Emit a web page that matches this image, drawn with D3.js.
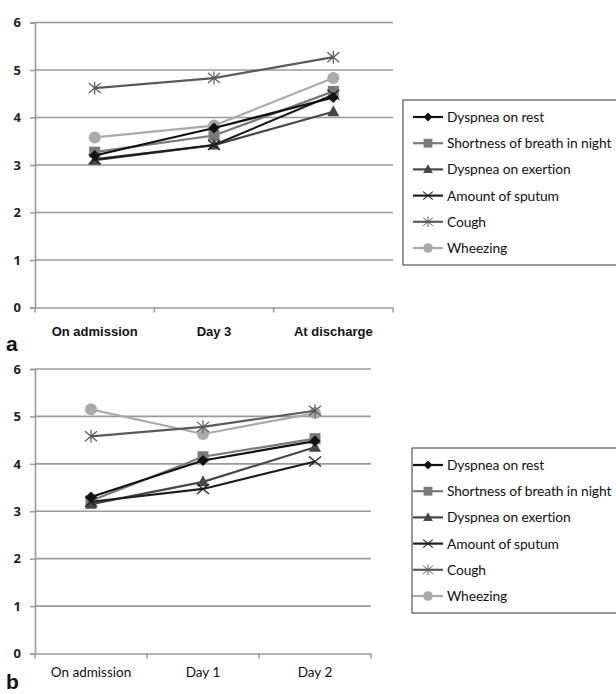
<!DOCTYPE html>
<html>
<head>
<meta charset="utf-8">
<script src="https://cdn.jsdelivr.net/npm/d3@7"></script>
<style>
  body { margin: 0; background: #fff; }
  svg { display: block; }
</style>
</head>
<body>
<svg id="chart" width="616" height="694"></svg>
<script>
// categories
var catsA = ["On admission", "Day 3", "At discharge"];
var catsB = ["On admission", "Day 1", "Day 2"];
var yTicks = [0, 1, 2, 3, 4, 5, 6];

var seriesNames = ["Dyspnea on rest", "Shortness of breath in night", "Dyspnea on exertion",
                   "Amount of sputum", "Cough", "Wheezing"];

// panel a values
var restA      = [3.20, 3.78, 4.42];
var nightA     = [3.27, 3.62, 4.55];
var exertionA  = [3.10, 3.42, 4.12];
var sputumA    = [3.12, 3.42, 4.48];
var coughA     = [4.62, 4.83, 5.27];
var wheezingA  = [3.58, 3.83, 4.83];

// panel b values
var restB      = [3.30, 4.07, 4.48];
var nightB     = [3.22, 4.15, 4.53];
var exertionB  = [3.15, 3.62, 4.35];
var sputumB    = [3.20, 3.47, 4.05];
var coughB     = [4.58, 4.78, 5.12];
var wheezingB  = [5.15, 4.63, 5.07];

var styles = [
  {color: "#111", marker: "diamond"},
  {color: "#7a7a7a", marker: "square"},
  {color: "#474747", marker: "triangle"},
  {color: "#1e1e1e", marker: "cross"},
  {color: "#5a5a5a", marker: "star"},
  {color: "#aaaaaa", marker: "circle"}
];

var svg = d3.select("#chart");

function drawMarker(g, type, x, y, color, s) {
  s = s || 1;
  var tr = "translate(" + x + "," + y + ") scale(" + s + ")";
  if (type === "circle") {
    g.append("circle").attr("cx", x).attr("cy", y).attr("r", 6 * s).attr("fill", color);
  } else if (type === "square") {
    g.append("rect").attr("x", x - 5.5 * s).attr("y", y - 5.5 * s).attr("width", 11 * s).attr("height", 11 * s).attr("fill", color);
  } else if (type === "triangle") {
    g.append("path").attr("d", "M0,-6.5L6,4.5L-6,4.5Z").attr("transform", tr).attr("fill", color);
  } else if (type === "diamond") {
    g.append("path").attr("d", "M0,-5.5L5.5,0L0,5.5L-5.5,0Z").attr("transform", tr).attr("fill", color);
  } else if (type === "cross") {
    g.append("path").attr("d", "M-6,-5L6,5M-6,5L6,-5").attr("transform", tr)
      .attr("stroke", color).attr("stroke-width", 1.3).attr("fill", "none");
  } else if (type === "star") {
    g.append("path").attr("d", "M-6,-5L6,5M-6,5L6,-5M0,-6.5V6.5").attr("transform", tr)
      .attr("stroke", color).attr("stroke-width", 1.2).attr("fill", "none");
  }
}

function drawPanel(cfg) {
  var g = svg.append("g");
  var x = d3.scaleBand().domain(cfg.cats).range([cfg.left, cfg.right]).paddingInner(0).paddingOuter(0);
  var y = d3.scaleLinear().domain([0, 6]).range([cfg.bottom, cfg.top]);

  // grid
  g.selectAll(".grid").data(yTicks.slice(1)).enter().append("line")
    .attr("x1", cfg.left).attr("x2", cfg.right)
    .attr("y1", function(d) { return y(d); }).attr("y2", function(d) { return y(d); })
    .attr("stroke", "#9a9a9a").attr("stroke-width", 1.6);

  // y axis
  var yAxis = g.append("g").attr("transform", "translate(" + cfg.left + ",0)")
    .call(d3.axisLeft(y).tickValues(yTicks).tickSize(5).tickPadding(9).tickFormat(d3.format("d")));
  yAxis.select(".domain").attr("stroke", "#9a9a9a").attr("stroke-width", 1.6);
  yAxis.selectAll(".tick line").attr("stroke", "#9a9a9a").attr("stroke-width", 1.5);
  yAxis.selectAll("text").attr("fill", "#222").style("font", "bold 13px 'Open Sans', sans-serif");

  // x axis
  var xAxis = g.append("g").attr("transform", "translate(0," + cfg.bottom + ")")
    .call(d3.axisBottom(x).tickSize(0).tickPadding(cfg.xPad));
  xAxis.select(".domain").attr("stroke", "#9a9a9a").attr("stroke-width", 1.6);
  xAxis.selectAll("text").attr("fill", "#111").style("font", cfg.xFont);
  g.selectAll(".xt").data(cfg.cats.concat(["end"])).enter().append("line")
    .attr("x1", function(d, i) { return cfg.left + i * x.bandwidth(); })
    .attr("x2", function(d, i) { return cfg.left + i * x.bandwidth(); })
    .attr("y1", cfg.bottom).attr("y2", cfg.bottom + 5)
    .attr("stroke", "#9a9a9a").attr("stroke-width", 1.5);

  var line = d3.line()
    .x(function(d, i) { return x(cfg.cats[i]) + x.bandwidth() / 2; })
    .y(function(d) { return y(d); });

  // draw lighter series first so dark ones sit on top, like the original
  var order = [5, 4, 1, 2, 3, 0];
  order.forEach(function(si) {
    var vals = cfg.series[si];
    var st = styles[si];
    g.append("path").datum(vals).attr("d", line)
      .attr("fill", "none").attr("stroke", st.color).attr("stroke-width", 2.2);
    vals.forEach(function(v, i) {
      drawMarker(g, st.marker, x(cfg.cats[i]) + x.bandwidth() / 2, y(v), st.color, 1);
    });
  });

  // legend
  var lg = g.append("g");
  lg.append("rect").attr("x", cfg.legX).attr("y", cfg.legY).attr("width", 240).attr("height", cfg.legH)
    .attr("fill", "#fff").attr("stroke", "#333").attr("stroke-width", 1);
  seriesNames.forEach(function(name, i) {
    var cy = cfg.legY + 17 + i * 26.2;
    var st = styles[i];
    lg.append("line").attr("x1", 413).attr("x2", 443).attr("y1", cy).attr("y2", cy)
      .attr("stroke", st.color).attr("stroke-width", 2.2);
    drawMarker(lg, st.marker, 428, cy, st.color, 0.8);
    lg.append("text").attr("x", 447).attr("y", cy + 5).text(name)
      .attr("fill", "#111").style("font", "13.8px Lato, 'Open Sans', sans-serif")
      .style("letter-spacing", "-0.1px");
  });

  // panel letter
  g.append("text").attr("x", 6).attr("y", cfg.letterY).text(cfg.letter)
    .attr("fill", "#111").style("font", "bold 21px 'Liberation Sans', Arial, sans-serif");
}

drawPanel({
  cats: catsA, left: 35, right: 393, top: 22.5, bottom: 307.5,
  series: [restA, nightA, exertionA, sputumA, coughA, wheezingA],
  xPad: 19, xFont: "bold 13px 'Liberation Sans', Arial, sans-serif",
  legX: 403, legY: 100, legH: 165, letter: "a", letterY: 351
});

drawPanel({
  cats: catsB, left: 35, right: 371, top: 369, bottom: 653.5,
  series: [restB, nightB, exertionB, sputumB, coughB, wheezingB],
  xPad: 14, xFont: "13.5px Lato, 'Open Sans', sans-serif",
  legX: 412, legY: 448, legH: 165, letter: "b", letterY: 689
});
</script>
</body>
</html>
